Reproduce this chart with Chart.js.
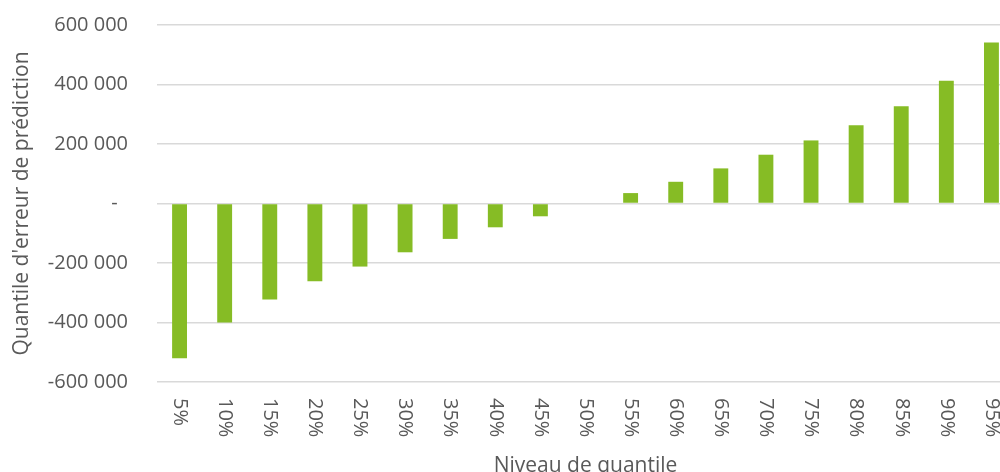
<!DOCTYPE html>
<html>
<head>
<meta charset="utf-8">
<script src="https://cdn.jsdelivr.net/npm/chart.js@4.4.1/dist/chart.umd.min.js"></script>
<style>
  html, body { margin: 0; padding: 0; overflow: hidden; background: #fff; }
  #wrap { position: absolute; left: 0; top: 0; width: 1014px; height: 490px; }
</style>
</head>
<body>
<div id="wrap"><canvas id="barChart"></canvas></div>
<script>
const quantiles = ['5%', '10%', '15%', '20%', '25%', '30%', '35%', '40%', '45%', '50%',
  '55%', '60%', '65%', '70%', '75%', '80%', '85%', '90%', '95%'];
const errorValues = [-520000, -400000, -323000, -261000, -212000, -164000, -119000, -80000, -43000, 0,
  35000, 73000, 118000, 164000, 212000, 263000, 327000, 413000, 541000];
const yTicks = [-600000, -400000, -200000, 0, 200000, 400000, 600000];

const textColor = '#595959';
const fontFamily = '"Open Sans", sans-serif';

function fmt(v) {
  if (v === 0) return '-  ';
  const s = Math.abs(v).toString().replace(/\B(?=(\d{3})+(?!\d))/g, ' ');
  return (v < 0 ? '-' : '') + s;
}

// x labels read top to bottom, so draw them ourselves at the tick positions
const rotatedLabels = {
  id: 'rotatedLabels',
  afterDraw(chart) {
    const xs = chart.scales.x;
    const c = chart.ctx;
    c.save();
    c.fillStyle = textColor;
    c.font = '20px ' + fontFamily;
    c.textAlign = 'left';
    c.textBaseline = 'middle';
    quantiles.forEach((q, i) => {
      c.save();
      c.translate(xs.getPixelForTick(i), xs.top + 16);
      c.rotate(Math.PI / 2);
      c.fillText(q, 0, 0);
      c.restore();
    });
    c.restore();
  }
};

const ctx = document.getElementById('barChart').getContext('2d');

new Chart(ctx, {
  type: 'bar',
  data: {
    labels: quantiles,
    datasets: [{
      label: "Quantile d'erreur de prédiction",
      data: errorValues,
      backgroundColor: '#86BC25',
      borderWidth: 0,
      barPercentage: 0.33,
      categoryPercentage: 1
    }]
  },
  options: {
    responsive: true,
    maintainAspectRatio: false,
    animation: false,
    layout: { padding: { top: 25, left: 0, right: 0, bottom: 0 } },
    plugins: {
      legend: { display: false },
      tooltip: { enabled: false }
    },
    scales: {
      x: {
        grid: { display: false },
        border: { display: false },
        ticks: { display: false },
        title: {
          display: true,
          text: 'Niveau de quantile',
          color: textColor,
          font: { family: fontFamily, size: 21 },
          padding: { top: 0, bottom: 11 }
        },
        afterFit(scale) { scale.height = 108; }
      },
      y: {
        min: -600000,
        max: 600000,
        afterBuildTicks(scale) { scale.ticks = yTicks.map(v => ({ value: v })); },
        grid: { color: '#d9d9d9', lineWidth: 1.5, drawTicks: false },
        border: { display: false },
        ticks: {
          color: textColor,
          font: { family: fontFamily, size: 20 },
          padding: 29,
          callback: v => fmt(v)
        },
        title: {
          display: true,
          text: "Quantile d'erreur de prédiction",
          color: textColor,
          font: { family: fontFamily, size: 21 },
          padding: { top: 9, bottom: 0 }
        },
        afterFit(scale) {
          scale.width = 157;
          // tick padding would otherwise push the plot area down
          scale.paddingTop = 0;
          scale.paddingBottom = 0;
        }
      }
    }
  },
  plugins: [rotatedLabels]
});
</script>
</body>
</html>
